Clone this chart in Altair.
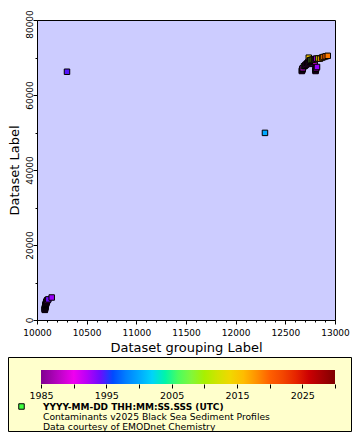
import altair as alt
import pandas as pd

# ---- data ----
group_x = [10078, 10079, 10080, 10080, 10081, 10082, 10083, 10084, 10085, 10086, 10087, 10088,
           10089, 10090, 10091, 10093, 10094, 10096, 10098, 10100, 10102, 10105, 10114, 10148,
           10302, 12295,
           12666, 12668, 12670, 12672, 12674, 12676, 12688,
           12696, 12702, 12708, 12714, 12720, 12726, 12732, 12738,
           12770, 12780, 12790, 12795,
           12804, 12805, 12806, 12807, 12808, 12810, 12819,
           12736, 12745, 12748, 12752, 12757, 12768, 12778, 12790, 12800, 12812, 12830,
           12849, 12870, 12884, 12905, 12927]
label_y = [2700, 2825, 2950, 3075, 3200, 3325, 3450, 3575, 3700, 3825, 3950, 4075,
           4200, 4325, 4450, 4575, 4700, 4825, 4950, 5075, 5200, 5300, 5500, 6000,
           66200, 49900,
           66400, 66550, 66700, 66850, 67000, 67150, 67650,
           67800, 67950, 68100, 68250, 68400, 68550, 68700, 68850,
           68300, 68500, 68700, 68900,
           66400, 66550, 66700, 66850, 67000, 67150, 67470,
           69950, 69000, 69150, 69300, 69300, 69400, 69450, 69500, 69600, 69700, 69750,
           69700, 70000, 70130, 70300, 70450]
year = [1987, 1986, 1988, 1987, 1986, 1988, 1987, 1989, 1988, 1987, 1988, 1986,
        1987, 1988, 1986, 1987, 1989, 1988, 1987, 1988, 1989, 1990, 1994, 1993,
        1994.5, 2000,
        1991, 1989, 1992, 1990, 1988, 1991, 2007,
        1990, 1988, 1991, 1989, 1990, 1992, 1988, 1989,
        1990, 1991, 1989, 1990,
        1990, 1992, 1991, 1989, 1990, 1991, 1993,
        2015, 1990, 1989, 1991, 2008, 2010, 2011, 2012, 1991, 1992, 2013,
        2017, 2018, 2019, 2020, 2019]

x_ticks = list(range(10000, 13001, 100))
y_ticks = list(range(0, 80001, 10000))
cbar_ticks = list(range(1985, 2031, 5))
palette = ["#800090", "#f000f0", "#2a1aff", "#00a8ff", "#10ff70",
           "#a8f000", "#ffd000", "#ff6000", "#e00000", "#800000"]
legend_lines = ["YYYY-MM-DD THH:MM:SS.SSS (UTC)",
                "Contaminants v2025 Black Sea Sediment Profiles",
                "Data courtesy of EMODnet Chemistry"]
legend_marker_color = "#40ff40"

FONT = "DejaVu Sans"
W, H = 298, 300

df = pd.DataFrame({"group": group_x, "label": label_y, "year": year,
                   "idx": list(range(len(group_x)))})
one = pd.DataFrame({"k": [0]})

box = alt.Chart(one).mark_rect(fill="#ffffcc", stroke="black", strokeWidth=1).encode(
    x=alt.value(-28.5), x2=alt.value(314.5), y=alt.value(337.5), y2=alt.value(411.5))

x_axis = alt.Axis(orient="bottom", values=x_ticks, format="d",
                  labelExpr="datum.value % 500 === 0 ? datum.label : ''",
                  tickSize={"condition": {"test": "datum.value % 500 === 0", "value": 4}, "value": 2},
                  tickColor="black", domainColor="black", labelColor="black",
                  labelFont=FONT, labelFontSize=9, labelPadding=4.5,
                  labelFlush=False, labelOverlap=False, grid=False,
                  title="Dataset grouping Label", titleFont=FONT, titleFontSize=13,
                  titleFontWeight="normal", titleColor="black", titlePadding=4)
y_axis = alt.Axis(orient="left", values=y_ticks, format="d",
                  labelExpr="datum.value % 20000 === 0 ? datum.label : ''",
                  tickSize={"condition": {"test": "datum.value % 20000 === 0", "value": 4}, "value": 2},
                  labelOffset={"condition": {"test": "datum.value === 80000", "value": 4}, "value": 0},
                  tickColor="black", domainColor="black", labelColor="black",
                  labelFont=FONT, labelFontSize=9, labelPadding=1, labelAngle=270,
                  labelAlign="center", labelBaseline="alphabetic",
                  labelFlush=False, labelOverlap=False, grid=False,
                  title="Dataset Label", titleFont=FONT, titleFontSize=13,
                  titleFontWeight="normal", titleColor="black", titlePadding=4)

points = alt.Chart(df).mark_square(size=30, stroke="black", strokeWidth=1, opacity=1).encode(
    x=alt.X("group:Q", scale=alt.Scale(domain=[10000, 13000], nice=False, zero=False), axis=x_axis),
    y=alt.Y("label:Q", scale=alt.Scale(domain=[0, 80000], nice=False), axis=y_axis),
    color=alt.Color("year:Q", title=None,
                    scale=alt.Scale(domain=cbar_ticks, range=palette),
                    legend=alt.Legend(orient="none", legendX=4, legendY=350, direction="horizontal",
                                      gradientLength=294, gradientThickness=14, gradientStrokeWidth=0,
                                      labelExpr="''", padding=0)),
    order=alt.Order("idx:Q"),
)

cbar_axis = alt.Chart(pd.DataFrame({"year": cbar_ticks})).mark_tick(opacity=0).encode(
    x=alt.X("year:Q", scale=alt.Scale(domain=[1985, 2030], range=[4, 298], nice=False, zero=False),
            axis=alt.Axis(orient="bottom", offset=64, values=cbar_ticks, format="d", domain=False,
                          tickSize=4, tickColor="black", labelColor="black",
                          labelExpr="datum.value % 10 === 5 ? datum.label : ''",
                          labelFont=FONT, labelFontSize=9.5, labelPadding=2,
                          labelFlush=False, labelOverlap=False, grid=False, title=None, zindex=2)),
)

marker = alt.Chart(one).mark_square(size=30, fill=legend_marker_color, stroke="black",
                                    strokeWidth=1, opacity=1).encode(
    x=alt.value(-15.5), y=alt.value(386.5))

t1 = alt.Chart(one).mark_text(text=legend_lines[0], font=FONT, fontSize=9, fontWeight="bold",
                              align="left", baseline="alphabetic", color="black").encode(
    x=alt.value(6), y=alt.value(389.6))
t2 = alt.Chart(one).mark_text(text=legend_lines[1], font=FONT, fontSize=9.2,
                              align="left", baseline="alphabetic", color="black").encode(
    x=alt.value(6), y=alt.value(399.8))
t3 = alt.Chart(one).mark_text(text=legend_lines[2], font=FONT, fontSize=9.2,
                              align="left", baseline="alphabetic", color="black").encode(
    x=alt.value(6), y=alt.value(409.6))

chart = alt.layer(box, points, cbar_axis, marker, t1, t2, t3).resolve_scale(
    x="independent").resolve_axis(x="independent").properties(
    width=W, height=H, autosize="none",
    padding={"left": 29, "top": 12, "right": 17, "bottom": 112},
).configure_view(fill="#ccccff", stroke="black", strokeWidth=1)

chart.save("out.html", embed_options={"renderer": "svg", "actions": False})
